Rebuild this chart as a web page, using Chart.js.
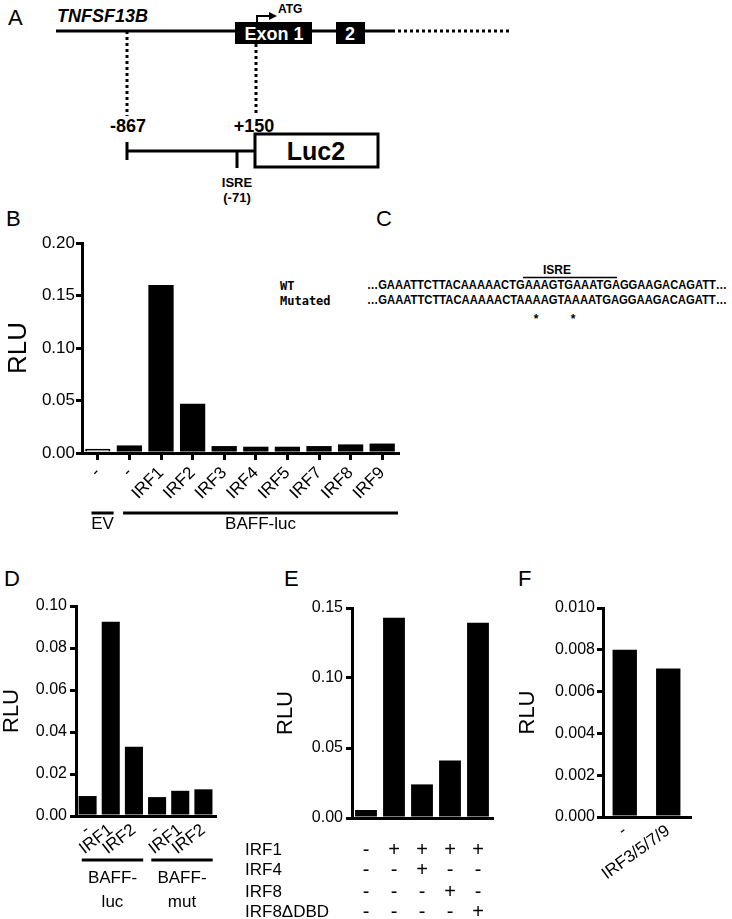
<!DOCTYPE html>
<html>
<head>
<meta charset="utf-8">
<script src="https://cdn.jsdelivr.net/npm/chart.js@4"></script>
<style>
  body { margin: 0; background: #fff; }
  #wrap { position: relative; width: 732px; height: 919px; overflow: hidden; }
  #wrap svg, #wrap canvas { position: absolute; }
</style>
</head>
<body>
<div id="wrap">
  <svg width="732" height="919" style="left:0;top:0" font-family="Arial, 'Liberation Sans', sans-serif">
    <!-- panel letters -->
    <g font-size="22" fill="#000">
      <text x="8" y="25">A</text>
      <text x="6" y="226">B</text>
      <text x="376" y="226">C</text>
      <text x="4" y="586">D</text>
      <text x="284" y="586">E</text>
      <text x="518" y="586">F</text>
    </g>
    <!-- A: gene diagram -->
    <text x="57" y="22" font-size="18" font-weight="bold" font-style="italic">TNFSF13B</text>
    <g stroke="#000" stroke-width="3" fill="none">
      <line x1="56" y1="31" x2="236" y2="31"/>
      <line x1="311" y1="31" x2="337" y2="31"/>
      <line x1="364" y1="31" x2="392" y2="31"/>
      <line x1="392" y1="31" x2="510" y2="31" stroke-dasharray="3,3"/>
      <line x1="127" y1="31" x2="127" y2="116" stroke-dasharray="3,3"/>
      <line x1="256" y1="44" x2="256" y2="116" stroke-dasharray="3,3"/>
      <polyline points="257,23 257,16 270,16" stroke-width="2"/>
      <line x1="127" y1="151" x2="255" y2="151"/>
      <line x1="127" y1="142" x2="127" y2="160"/>
      <line x1="237" y1="151" x2="237" y2="168"/>
      <rect x="255" y="134" width="123" height="33" fill="#fff"/>
    </g>
    <polygon points="269,12 277,16 269,20" fill="#000"/>
    <text x="278" y="13" font-size="12" font-weight="bold">ATG</text>
    <rect x="235" y="22" width="77" height="22" fill="#000"/>
    <rect x="336" y="22" width="29" height="22" fill="#000"/>
    <text x="274" y="40" font-size="18" font-weight="bold" fill="#fff" text-anchor="middle">Exon 1</text>
    <text x="350" y="40" font-size="18" font-weight="bold" fill="#fff" text-anchor="middle">2</text>
    <text x="128" y="132" font-size="18" font-weight="bold" text-anchor="middle">-867</text>
    <text x="254" y="132" font-size="18" font-weight="bold" text-anchor="middle">+150</text>
    <text x="316" y="160" font-size="25" font-weight="bold" text-anchor="middle">Luc2</text>
    <text x="237" y="187" font-size="13" font-weight="bold" text-anchor="middle">ISRE</text>
    <text x="237" y="202" font-size="13" font-weight="bold" text-anchor="middle">(-71)</text>
    <!-- C: sequence -->
    <g font-family="'DejaVu Sans Mono', monospace" font-size="12" font-weight="bold">
      <text x="280" y="290">WT</text>
      <text x="280" y="305">Mutated</text>
    </g>
    <g font-size="12" font-weight="bold">
      <text x="367" y="289" textLength="360" lengthAdjust="spacingAndGlyphs">…GAAATTCTTACAAAAACTGAAAGTGAAATGAGGAAGACAGATT…</text>
      <text x="367" y="304" textLength="360" lengthAdjust="spacingAndGlyphs">…GAAATTCTTACAAAAACTAAAAGTAAAATGAGGAAGACAGATT…</text>
      <text x="557" y="274" text-anchor="middle">ISRE</text>
      <text x="536" y="323" text-anchor="middle">*</text>
      <text x="573" y="323" text-anchor="middle">*</text>
    </g>
    <line x1="523" y1="277.5" x2="617" y2="277.5" stroke="#000" stroke-width="1.5"/>
  </svg>
  <canvas id="chartB" width="420" height="343" style="left:0;top:200px"></canvas>
  <canvas id="chartD" width="230" height="359" style="left:0;top:560px"></canvas>
  <canvas id="chartE" width="270" height="359" style="left:230px;top:560px"></canvas>
  <canvas id="chartF" width="232" height="359" style="left:500px;top:560px"></canvas>
</div>
<script>
// ---- panel B: IRF screen on BAFF-luc ----
const bLabels = ['-', '-', 'IRF1', 'IRF2', 'IRF3', 'IRF4', 'IRF5', 'IRF7', 'IRF8', 'IRF9'];
const bValues = [0.004, 0.0072, 0.160, 0.047, 0.0066, 0.006, 0.006, 0.0066, 0.0082, 0.009];
const bTicks = [0, 0.05, 0.10, 0.15, 0.20];
const bGroups = ['EV', 'BAFF-luc'];
const bGroupIdx = [[0, 0], [1, 9]];

// ---- panel D: BAFF-luc vs BAFF-mut ----
const dLabels = ['-', 'IRF1', 'IRF2', '-', 'IRF1', 'IRF2'];
const dValues = [0.0095, 0.0925, 0.033, 0.009, 0.012, 0.0127];
const dTicks = [0, 0.02, 0.04, 0.06, 0.08, 0.10];
const dGroups = [['BAFF-', 'luc'], ['BAFF-', 'mut']];
const dGroupIdx = [[0, 2], [3, 5]];

// ---- panel E: IRF1 with IRF4 / IRF8 ----
const eValues = [0.0057, 0.143, 0.024, 0.041, 0.1395];
const eTicks = [0, 0.05, 0.10, 0.15];
const eRowNames = ['IRF1', 'IRF4', 'IRF8', 'IRF8\u0394DBD'];
const eIRF1 = ['-', '+', '+', '+', '+'];
const eIRF4 = ['-', '-', '+', '-', '-'];
const eIRF8 = ['-', '-', '-', '+', '-'];
const eIRF8dDBD = ['-', '-', '-', '-', '+'];

// ---- panel F: IRF3/5/7/9 ----
const fLabels = ['-', 'IRF3/5/7/9'];
const fValues = [0.008, 0.0071];
const fTicks = [0, 0.002, 0.004, 0.006, 0.008, 0.010];

const FONT = 'Arial, "Liberation Sans", sans-serif';
Chart.defaults.font.family = FONT;
Chart.defaults.color = '#000';

// lines + names under groups of bars
const groupLines = {
  id: 'groupLines',
  afterDraw(chart, args, opts) {
    if (!opts.names) return;
    const x = chart.scales.x;
    const ctx = chart.ctx;
    ctx.save();
    ctx.strokeStyle = '#000';
    ctx.lineWidth = 3;
    ctx.fillStyle = '#000';
    ctx.font = opts.size + 'px ' + FONT;
    ctx.textAlign = 'center';
    ctx.textBaseline = 'middle';
    opts.names.forEach((name, i) => {
      const x1 = x.getPixelForValue(opts.spans[i][0] - opts.padL);
      const x2 = x.getPixelForValue(opts.spans[i][1] + opts.padR);
      ctx.beginPath();
      ctx.moveTo(x1, opts.lineY);
      ctx.lineTo(x2, opts.lineY);
      ctx.stroke();
      [].concat(name).forEach((t, j) => ctx.fillText(t, (x1 + x2) / 2, opts.textY + j * opts.gap));
    });
    ctx.restore();
  }
};

// +/- table under panel E
const signTable = {
  id: 'signTable',
  afterDraw(chart, args, opts) {
    if (!opts.rows) return;
    const x = chart.scales.x;
    const ctx = chart.ctx;
    ctx.save();
    ctx.fillStyle = '#000';
    ctx.textBaseline = 'middle';
    opts.rows.forEach((row, r) => {
      const y = opts.rowY[r];
      ctx.font = '17px ' + FONT;
      ctx.textAlign = 'left';
      ctx.fillText(opts.names[r], opts.labelX, y);
      ctx.font = '20px ' + FONT;
      ctx.textAlign = 'center';
      row.forEach((s, i) => ctx.fillText(s, x.getPixelForValue(i), y));
    });
    ctx.restore();
  }
};

function barChart(id, cfg) {
  return new Chart(document.getElementById(id), {
    type: 'bar',
    data: {
      labels: cfg.labels,
      datasets: [{
        data: cfg.values,
        backgroundColor: cfg.colors || '#000',
        borderColor: '#000',
        borderWidth: cfg.borders || 0,
        barPercentage: cfg.barPct,
        categoryPercentage: 1
      }]
    },
    options: {
      responsive: false,
      animation: false,
      layout: { padding: { top: cfg.padTop, right: cfg.padRight, left: 0, bottom: 0 } },
      plugins: {
        legend: { display: false },
        tooltip: { enabled: false },
        groupLines: cfg.groups || {},
        signTable: cfg.table || {}
      },
      scales: {
        x: {
          afterFit: s => { s.height = cfg.xHeight; },
          border: { display: true, color: '#000', width: 3 },
          grid: { display: true, offset: false, drawOnChartArea: false, drawTicks: !!cfg.xTicks, tickLength: 7, lineWidth: 3, color: '#000' },
          ticks: {
            display: cfg.showXLabels !== false,
            autoSkip: false, minRotation: cfg.rot, maxRotation: cfg.rot,
            padding: cfg.xPad, font: { size: cfg.xFont }, color: '#000'
          }
        },
        y: {
          min: 0,
          max: cfg.ticks[cfg.ticks.length - 1],
          afterFit: s => { s.width = cfg.yWidth; },
          afterBuildTicks: s => { s.ticks = cfg.ticks.map(v => ({ value: v })); },
          border: { display: true, color: '#000', width: 3 },
          grid: { drawOnChartArea: false, drawTicks: true, tickLength: 6, lineWidth: 3, color: '#000' },
          ticks: {
            padding: cfg.yPad,
            font: { size: cfg.yFont },
            color: '#000',
            callback: v => Number(v).toFixed(cfg.decimals)
          },
          title: {
            display: true, text: 'RLU', color: '#000',
            font: { size: cfg.titleSize, lineHeight: 1 },
            padding: { top: cfg.titlePad, bottom: 0 }
          }
        }
      }
    },
    plugins: [groupLines, signTable]
  });
}

barChart('chartB', {
  labels: bLabels, values: bValues,
  colors: bValues.map((v, i) => i === 0 ? '#8a8a8a' : '#000'),
  borders: bValues.map((v, i) => i === 0 ? 2 : 0),
  ticks: bTicks, decimals: 2,
  barPct: 0.8, padTop: 43, padRight: 22, xHeight: 90, yWidth: 82,
  xTicks: true, rot: 45, xPad: 3, xFont: 17, yFont: 17, yPad: 1,
  titleSize: 26, titlePad: 6,
  groups: { names: bGroups, spans: bGroupIdx, padL: 0.2, padR: 0.5, lineY: 313, textY: 324, gap: 0, size: 17 }
});

barChart('chartD', {
  labels: dLabels, values: dValues,
  ticks: dTicks, decimals: 2,
  barPct: 0.78, padTop: 46, padRight: 15, xHeight: 103, yWidth: 76,
  xTicks: false, rot: 38, xPad: 4, xFont: 17, yFont: 16, yPad: 3,
  titleSize: 22, titlePad: 1,
  groups: { names: dGroups, spans: dGroupIdx, padL: 0.25, padR: 0.4, lineY: 300, textY: 318, gap: 24, size: 17 }
});

barChart('chartE', {
  labels: eValues.map((v, i) => String(i + 1)), values: eValues,
  ticks: eTicks, decimals: 2,
  barPct: 0.78, padTop: 48, padRight: 8, xHeight: 101, yWidth: 122,
  xTicks: false, rot: 45, showXLabels: false, xPad: 4, xFont: 16, yFont: 16, yPad: 3,
  titleSize: 22, titlePad: 45,
  table: { names: eRowNames, rows: [eIRF1, eIRF4, eIRF8, eIRF8dDBD], rowY: [290, 310, 332, 352], labelX: 15 }
});

barChart('chartF', {
  labels: fLabels, values: fValues,
  ticks: fTicks, decimals: 3,
  barPct: 0.56, padTop: 48, padRight: 42, xHeight: 102, yWidth: 103,
  xTicks: false, rot: 36, xPad: 4, xFont: 17, yFont: 16, yPad: 2,
  titleSize: 22, titlePad: 17
});
</script>
</body>
</html>
